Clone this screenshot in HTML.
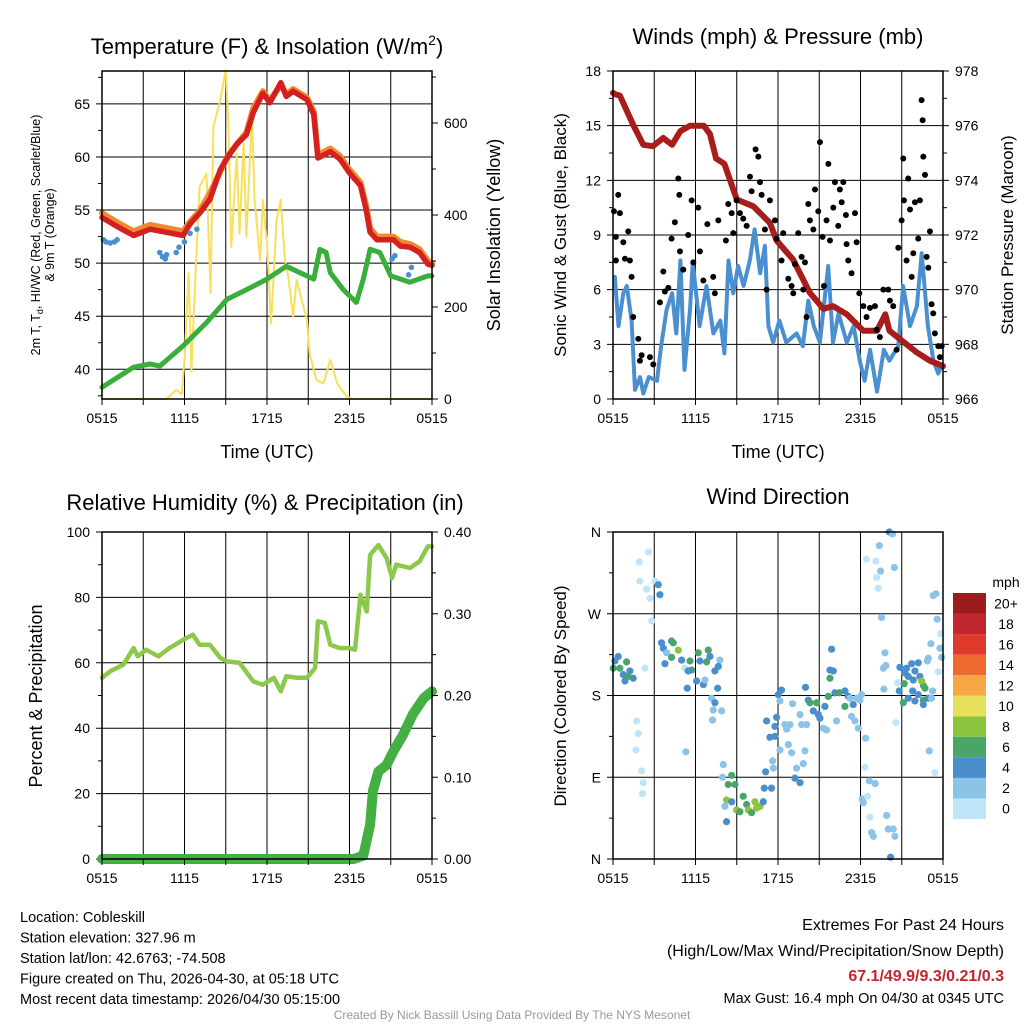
<!DOCTYPE html>
<html><head><meta charset="utf-8">
<style>
body{margin:0;background:#fff;width:1024px;height:1024px;overflow:hidden;font-family:"Liberation Sans",sans-serif}
svg text{font-family:"Liberation Sans",sans-serif}
</style></head>
<body>
<svg id="c" width="1024" height="1024" viewBox="0 0 1024 1024" xmlns="http://www.w3.org/2000/svg"></svg>
<script>
// ---------- data ----------
const xTickLabels = ["0515","1115","1715","2315","0515"];
// temperature panel (hours since 0515)
const tempT  = [0,1.3,2.3,3.5,4.7,5.9,6.4,7.1,7.85,8.6,9.1,9.8,10.5,11,11.7,12.2,13,13.4,13.9,14.9,15.4,15.7,16.6,17.3,18.0,18.8,19.2,19.5,20,20.7,21.2,21.7,22.4,23.1,23.7,24];
const tempV  = [54.3,53.3,52.6,53.2,52.9,52.6,53.7,54.7,56.0,58.8,59.9,61.2,62.1,64.2,66.0,65.1,67.0,65.7,66.2,65.4,64.0,59.9,60.5,59.8,58.5,57.3,55.1,52.9,52.2,52.2,52.2,51.6,51.5,51.0,49.9,49.8];
const temp9V = [54.7,53.7,53.0,53.6,53.3,53.0,53.9,54.9,56.6,58.6,60.0,61.2,62.3,64.6,66.2,65.3,66.8,65.9,66.4,65.6,64.3,60.2,60.8,60.1,58.8,57.6,55.5,53.3,52.5,52.5,52.5,52.0,51.8,51.3,50.2,50.0];
const dewT = [0,2.3,3.5,4.2,5.9,7.6,9.1,10.5,12,13.4,14.4,15.4,15.85,16.3,16.6,17.55,18.5,19,19.5,20.2,21,22.4,23.7,24];
const dewV = [38.3,40.2,40.5,40.3,42.2,44.4,46.6,47.5,48.5,49.7,49.1,48.5,51.3,51.0,49.1,47.5,46.3,48.5,51.3,51.0,48.8,48.2,48.8,48.8];
const hiT = [0.1,0.3,0.6,0.9,1.1,4.2,4.4,4.6,4.7,5.4,5.6,6.0,6.4,6.9,21.1,21.3,22.3,22.5];
const hiV = [52.2,52.0,51.9,52.0,52.2,51.0,50.6,50.4,50.8,51.0,51.5,52.0,52.8,53.2,50.4,50.7,48.9,49.6];
const solT = [0,4.7,5.4,5.8,6.0,6.3,6.5,6.8,7.1,7.6,7.9,8.1,8.6,9.0,9.2,9.4,9.8,10.0,10.3,10.5,10.9,11.1,11.5,11.7,12,12.3,12.7,13,13.3,13.55,13.9,14.15,14.4,14.9,15.1,15.6,16.1,16.6,17.1,17.8,18.3,24];
const solV = [0,0,20,10,85,273,60,273,462,490,230,592,650,715,592,331,534,360,556,353,614,433,302,433,338,164,389,433,302,266,179,259,230,172,99,41,34,85,34,5,0,0];
// wind panel
const windT = [0.14,0.4,0.75,1.0,1.35,1.6,1.96,2.2,2.6,3.2,3.5,3.9,4.3,4.6,4.9,5.2,5.6,5.8,6.3,6.8,7.3,7.8,8.1,8.4,8.75,9.1,9.5,9.95,10.3,10.7,11.05,11.3,11.65,12.1,12.6,13.35,13.8,14.2,14.6,15.05,15.65,16.0,16.4,17.0,17.5,17.95,18.3,18.7,19.2,19.7,20.1,20.75,21.1,21.6,22.1,22.45,22.9,23.3,23.65,23.9];
const windV = [6.7,4.0,5.8,6.2,4.3,0.5,1.2,0.3,1.2,1.0,2.9,4.9,5.8,3.6,7.6,1.6,4.9,7.5,4.0,6.2,3.6,4.3,2.5,7.6,5.8,7.3,6.2,7.6,9.3,6.9,8.4,4.0,3.1,4.3,3.1,3.6,2.9,5.4,4.0,3.1,7.3,3.1,4.7,3.1,4.0,2.1,1.0,2.7,0.4,2.7,2.1,2.9,6.2,4.0,5.1,8.0,4.0,2.1,1.4,1.8];
const gustT = [0.07,0.38,0.5,0.21,0.21,0.75,0.87,1.11,1.23,1.35,1.47,1.84,2.08,1.96,2.69,2.93,3.41,3.66,3.78,4.02,4.26,4.5,4.75,4.82,4.87,5.11,5.47,5.72,5.84,6.2,6.32,6.57,6.86,7.29,7.66,7.41,8.21,8.38,8.63,8.75,8.99,9.23,9.47,9.72,9.96,10.08,10.37,10.57,10.69,10.81,11.05,11.17,11.41,11.78,11.9,12.26,12.38,12.75,12.99,13.11,13.23,13.47,13.72,13.84,13.96,14.08,14.2,14.32,14.57,14.69,14.93,15.05,15.24,15.34,15.53,15.66,15.78,16.02,16.14,16.38,16.5,16.63,16.75,16.94,16.99,17.11,17.35,17.6,17.72,17.91,18.2,18.44,18.69,19.05,19.17,19.41,19.66,20.02,20.14,20.38,20.63,20.75,20.99,21.11,21.16,21.35,21.47,21.6,21.72,21.84,21.96,22.2,22.32,22.44,22.52,22.57,22.69,22.81,22.93,23.05,23.17,23.29,23.41,23.66,23.78,23.9];
const gustV = [10.3,11.2,10.2,8.9,7.6,8.6,7.7,9.2,7.6,6.7,4.5,3.3,2.4,2.1,2.3,1.9,5.3,7.0,5.9,6.1,8.8,9.7,12.1,11.2,8.1,7.1,9.0,10.9,7.5,10.5,8.1,6.5,9.6,6.7,9.8,5.8,8.7,10.7,10.2,9.1,10.9,10.2,9.9,9.5,12.2,11.4,13.7,13.3,11.9,11.2,9.3,6.0,10.9,9.8,8.8,7.6,9.1,6.6,6.2,5.8,7.4,9.1,7.8,6.0,7.5,4.5,10.7,9.8,9.3,11.5,10.3,14.1,8.9,6.2,9.8,12.9,8.7,10.5,11.9,9.5,11.5,10.8,11.9,10.1,8.5,7.6,6.9,10.2,8.6,5.8,5.1,4.5,5.0,5.1,3.8,3.4,6.0,6.0,5.4,5.1,2.7,8.3,9.8,13.2,10.9,7.6,12.1,10.4,6.7,8.0,10.8,8.8,10.9,16.4,15.3,13.3,12.3,7.8,7.2,9.2,5.2,4.7,3.6,2.9,2.3,2.9];
const presT = [0,0.14,0.5,1.5,2.2,2.9,3.65,4.3,4.9,5.6,6.6,7.05,7.5,8.1,9.0,10.2,11.4,11.9,13.1,14.3,15.3,16.0,17,18.2,19.2,19.8,20.1,21.1,22.1,23.05,24];
const presV = [977.2,977.15,977.1,976.0,975.3,975.25,975.55,975.3,975.8,976.0,976.0,975.7,974.8,974.6,973.3,973.05,972.45,971.8,971.1,969.9,969.3,969.4,969.1,968.5,968.5,969.1,968.5,968.1,967.7,967.4,967.2];
// humidity panel
const rhT = [0,0.6,1.55,2.3,2.6,3.2,4.1,4.9,5.9,6.6,7.1,7.85,8.6,9.1,10.0,11,11.7,12.5,13,13.4,14.2,14.9,15.5,15.7,16.2,16.6,17.3,18,18.4,18.8,19.25,19.5,20.1,20.7,21.1,21.4,22.4,23.1,23.7,24];
const rhV = [55.4,57.4,59.4,64.5,62,64,62,64.5,67,68.6,65.5,65.5,61.5,60.4,60,54.3,53.3,55.4,51.3,55.9,55.4,55.4,58.4,72.7,72.2,65.5,64.5,64.5,64,80.8,75.7,93,96,92,86,90,89,91,95.6,95.6];
const prT = [0,18.3,19.0,19.5,19.7,20.1,20.7,21.2,21.9,22.6,23.4,24];
const prV = [0,0,0.004,0.042,0.083,0.107,0.115,0.132,0.152,0.177,0.197,0.205];
// wind direction panel
const dirT = [0.14,0.38,0.02,0.5,0.99,0.75,1.23,1.47,0.87,1.11,2.32,1.91,2.57,1.96,2.44,3.05,3.29,3.41,2.69,2.81,1.72,1.84,1.67,2.08,2.2,2.15,3.53,3.66,4.26,4.38,4.75,4.26,3.9,3.78,4.99,5.6,5.23,5.72,5.47,6.2,6.93,6.32,6.81,7.05,6.08,6.57,6.69,5.4,7.61,7.41,7.78,7.66,7.17,7.41,7.29,7.9,7.24,5.3,8.02,7.97,8.63,8.38,8.87,8.26,8.14,8.63,8.99,9.23,9.47,9.72,9.84,10.08,10.32,10.44,10.69,10.93,8.26,11.1,11.0,11.53,11.66,11.61,12.14,11.17,11.78,11.41,11.78,11.9,12.26,12.02,12.14,12.5,12.63,12.87,12.75,13.06,12.99,13.35,13.84,13.23,13.6,13.6,13.72,14.08,14.0,13.96,14.2,14.32,14.57,14.81,14.93,15.05,15.29,15.53,15.41,15.66,15.78,15.9,16.02,15.78,16.14,16.26,16.46,16.87,16.87,17.11,17.23,17.35,17.47,17.72,17.6,17.84,18.08,17.96,18.37,18.32,18.64,19.07,18.13,18.52,18.2,18.69,18.81,18.93,19.9,20.02,20.38,20.5,20.19,18.44,19.12,19.37,19.46,19.17,19.29,20.09,20.33,20.46,19.53,19.78,19.66,19.85,19.7,20.58,20.7,20.87,21.23,21.35,21.72,22.2,21.47,21.84,21.96,22.32,21.18,20.82,21.79,22.2,22.57,22.69,22.44,21.47,21.96,22.57,22.57,21.11,22.93,23.24,23.17,23.0,23.41,23.12,22.93,22.86,23.58,23.78,23.9,23.83,23.66,23.29,23.49];
const dirDeg = [218,223,210,210,217,203,207,199,196,201,210,327,338,306,297,306,302,291,287,262,152,138,120,97,84,72,238,232,240,238,230,222,227,215,219,218,210,208,207,227,230,218,217,223,196,192,197,188,188,207,219,212,177,172,164,163,153,118,104,90,92,82,82,65,58,63,54,52,69,60,54,51,63,56,58,63,41,96,78,78,100,108,120,152,146,134,135,156,186,181,174,148,143,148,126,171,117,100,105,89,84,159,148,148,189,119,175,172,163,172,159,155,144,142,168,179,208,231,207,199,183,152,183,185,168,179,177,157,170,177,152,144,181,175,133,101,86,83,66,69,62,46,29,25,48,33,33,25,2,330,328,345,317,310,298,360,358,321,266,227,210,213,187,150,194,211,205,210,215,216,201,197,207,201,193,185,185,181,191,188,196,177,174,175,170,172,177,185,177,119,95,237,221,218,264,232,222,248,206,290,292];
const dirSpd = [4,4,6,6,6,4,4,4,4,6,1,0,0,0,0,0,4,4,0,0,0,0,0,0,0,0,4,4,4,6,8,6,2,4,4,6,1,6,4,6,6,4,6,4,4,4,2,4,4,4,2,4,2,4,2,2,2,2,2,2,6,6,6,8,2,4,8,6,6,6,8,6,8,8,8,4,4,4,4,4,2,2,2,4,4,4,4,4,4,4,2,2,2,2,2,2,2,2,2,4,4,2,2,2,4,2,4,6,4,6,4,4,2,2,4,6,4,4,4,6,4,2,6,4,6,4,2,2,4,2,2,2,2,2,2,0,2,2,2,1,2,0,2,2,2,2,2,2,4,0,0,2,2,0,0,4,2,2,2,2,2,2,2,0,1,4,4,4,4,4,4,4,4,4,6,4,4,4,6,6,8,4,4,6,4,6,4,2,2,2,0,2,2,2,2,2,2,1,0,2,2];
const cbLabels = ["0","2","4","6","8","10","12","14","16","18","20+"];
const cbColors = ["#bfe6f8","#8cc3e8","#4a8fcb","#4aa56a","#8cc43f","#e8e05a","#f7a744","#ef6a2f","#e03a2e","#c1272d","#9b1b1e"];

// ---------- helpers ----------
const NS="http://www.w3.org/2000/svg";
const svg=document.getElementById('c');
function mk(tag,attrs,parent){const e=document.createElementNS(NS,tag);for(const k in attrs)e.setAttribute(k,attrs[k]);(parent||svg).appendChild(e);return e;}
function txt(s,x,y,size,anchor,parent,extra){const e=mk('text',Object.assign({x:x,y:y,'font-size':size,'text-anchor':anchor||'middle',fill:'#000'},extra||{}),parent);e.textContent=s;return e;}
function spdColor(s){let i=Math.min(10,Math.max(0,Math.floor(s/2)));return cbColors[i];}

function panel(o){
  const g=mk('g',{});
  
  
  const X=h=>o.x0+h/24*(o.x1-o.x0);
  const Y=v=>o.y1-(v-o.ymin)/(o.ymax-o.ymin)*(o.y1-o.y0);
  const Y2=o.r?(v=>o.y1-(v-o.r.min)/(o.r.max-o.r.min)*(o.y1-o.y0)):null;
  const grid=mk('g',{stroke:'#000','stroke-width':1},g);
  
  
  for(let i=1;i<8;i++){const x=X(i*3);mk('line',{x1:x,x2:x,y1:o.y0,y2:o.y1},grid);}
  o.ticks.forEach(t=>{const y=Y(t.v);mk('line',{x1:o.x0-6,x2:o.x1,y1:y,y2:y},grid);});
  return {g,X,Y,Y2};
}
function frame(p,o){
  const g=p.g;
  const ax=mk('g',{},g);
  
  
  mk('rect',{x:o.x0,y:o.y0,width:o.x1-o.x0,height:o.y1-o.y0,fill:'none',stroke:'#000','stroke-width':1.5},ax);
  for(let i=0;i<=8;i++){const x=p.X(i*3);mk('line',{x1:x,x2:x,y1:o.y1,y2:o.y1+6,stroke:'#000'},ax);}
  xTickLabels.forEach((l,i)=>{const t=txt(l,p.X(i*6),o.y1+24,14,'middle',ax);});
  o.ticks.forEach(t=>{const e=txt(t.l,o.x0-12,p.Y(t.v)+5,14,'end',ax);});
  if(o.minor)o.minor.forEach(v=>{const y=p.Y(v);mk('line',{x1:o.x0-4,x2:o.x0,y1:y,y2:y,stroke:'#000'},ax);});
  if(o.r){o.r.ticks.forEach(t=>{const y=p.Y2(t.v);mk('line',{x1:o.x1,x2:o.x1+6,y1:y,y2:y,stroke:'#000'},ax);const e=txt(t.l,o.x1+12,y+5,14,'start',ax);});
    if(o.r.minor)o.r.minor.forEach(v=>{const y=p.Y2(v);mk('line',{x1:o.x1,x2:o.x1+4,y1:y,y2:y,stroke:'#000'},ax);});}
}
function line(p,ts,vs,Yf,color,w,name,parent){
  const d=ts.map((t,i)=>(i?'L':'M')+p.X(t).toFixed(1)+','+Yf(vs[i]).toFixed(1)).join('');
  const e=mk('path',{d:d,fill:'none',stroke:color,'stroke-width':w,'stroke-linejoin':'round','stroke-linecap':'round'},parent||p.g);
  
  
  return e;
}

// ---------- panel 1 ----------
const o1={name:'temperature-panel',x0:102,x1:432,y0:71,y1:399,ymin:37.2,ymax:68.1,
  ticks:[40,45,50,55,60,65].map(v=>({v,l:String(v)})),minor:[37.5,42.5,47.5,52.5,57.5,62.5,67.5],
  r:{min:0,max:713,ticks:[0,200,400,600].map(v=>({v,l:String(v)})),minor:[100,300,500,700]}};
const p1=panel(o1);
line(p1,solT,solV,p1.Y2,'#f8df5c',2,'solar-insolation-line');
line(p1,tempT,temp9V,p1.Y,'#f08a30',6,'temp-9m-line');
line(p1,tempT,tempV,p1.Y,'#d42020',5.5,'temp-2m-line');
line(p1,dewT,dewV,p1.Y,'#3aae3a',5,'dewpoint-line');
hiT.forEach((t,i)=>{const c=mk('circle',{cx:p1.X(t),cy:p1.Y(hiV[i]),r:2.8,fill:'#4a90d0'},p1.g);});
frame(p1,o1);
{const t=txt('',267,54,22,'middle',p1.g);
 t.innerHTML='Temperature (F) &amp; Insolation (W/m<tspan font-size="14" dy="-9">2</tspan><tspan dy="9">)</tspan>';}
{const t=txt('',0,0,12.5,'middle',p1.g,{transform:'translate(40,235) rotate(-90)'});
 t.innerHTML='2m T, T<tspan font-size="9" dy="3">d</tspan><tspan dy="-3">, HI/WC (Red, Green, Scarlet/Blue)</tspan>';
 const t2=txt('& 9m T (Orange)',0,0,12.5,'middle',p1.g,{transform:'translate(54,235) rotate(-90)'});}
{const t=txt('Solar Insolation (Yellow)',0,0,18,'middle',p1.g,{transform:'translate(500,235) rotate(-90)'});}
{const t=txt('Time (UTC)',267,458,18,'middle',p1.g);}

// ---------- panel 2 ----------
const o2={name:'winds-panel',x0:613,x1:943,y0:71,y1:399,ymin:0,ymax:18,
  ticks:[0,3,6,9,12,15,18].map(v=>({v,l:String(v)})),minor:[1.5,4.5,7.5,10.5,13.5,16.5],
  r:{min:966,max:978,ticks:[966,968,970,972,974,976,978].map(v=>({v,l:String(v)})),minor:[967,969,971,973,975,977]}};
const p2=panel(o2);
line(p2,windT,windV,p2.Y,'#4a90d0',4,'sonic-wind-line');
line(p2,presT,presV,p2.Y2,'#a81c1c',6,'station-pressure-line');
gustT.forEach((t,i)=>{const c=mk('circle',{cx:p2.X(t),cy:p2.Y(gustV[i]),r:3,fill:'#000'},p2.g);});
frame(p2,o2);
{const t=txt('Winds (mph) & Pressure (mb)',778,44,22,'middle',p2.g);}
{const t=txt('Sonic Wind & Gust (Blue, Black)',0,0,17,'middle',p2.g,{transform:'translate(566,235) rotate(-90)'});}
{const t=txt('Station Pressure (Maroon)',0,0,17,'middle',p2.g,{transform:'translate(1013,235) rotate(-90)'});}
{const t=txt('Time (UTC)',778,458,18,'middle',p2.g);}

// ---------- panel 3 ----------
const o3={name:'humidity-panel',x0:102,x1:432,y0:532,y1:859,ymin:0,ymax:100,
  ticks:[0,20,40,60,80,100].map(v=>({v,l:String(v)})),minor:[10,30,50,70,90],
  r:{min:0,max:0.4,ticks:[0,0.1,0.2,0.3,0.4].map(v=>({v,l:v.toFixed(2)})),minor:[0.05,0.15,0.25,0.35]}};
const p3=panel(o3);
line(p3,rhT,rhV,p3.Y,'#8cc84b',4.5,'relative-humidity-line');
line(p3,prT,prV,p3.Y2,'#44b044',10,'precipitation-line');
frame(p3,o3);
{const t=txt('Relative Humidity (%) & Precipitation (in)',265,510,22,'middle',p3.g);}
{const t=txt('Percent & Precipitation',0,0,18,'middle',p3.g,{transform:'translate(42,696) rotate(-90)'});}

// ---------- panel 4 ----------
const o4={name:'wind-direction-panel',x0:613,x1:943,y0:532,y1:859,ymin:0,ymax:360,
  ticks:[{v:0,l:'N'},{v:90,l:'E'},{v:180,l:'S'},{v:270,l:'W'},{v:360,l:'N'}],minor:[45,135,225,315]};
const p4=panel(o4);
dirT.forEach((t,i)=>{const c=mk('circle',{cx:p4.X(t),cy:p4.Y(dirDeg[i]),r:3.6,fill:spdColor(dirSpd[i])},p4.g);});
frame(p4,o4);
{const t=txt('Wind Direction',778,504,22,'middle',p4.g);}
{const t=txt('Direction (Colored By Speed)',0,0,17,'middle',p4.g,{transform:'translate(566,696) rotate(-90)'});}
{const cb=mk('g',{},p4.g);
 const top=593,bot=819,h=(bot-top)/cbColors.length;
 cbColors.forEach((c,i)=>{const r=mk('rect',{x:953,y:bot-(i+1)*h,width:33,height:h,fill:c},cb);
   const t=txt(cbLabels[i],1006,bot-i*h-h/2+5,14,'middle',cb);});
 const t=txt('mph',1006,587,14,'middle',cb);}

// ---------- footer ----------
{const f=mk('g',{});
 ["Location: Cobleskill","Station elevation: 327.96 m","Station lat/lon: 42.6763; -74.508","Figure created on Thu, 2026-04-30, at 05:18 UTC","Most recent data timestamp: 2026/04/30 05:15:00"].forEach((s,i)=>txt(s,20,922+i*20.5,14.5,'start',f));
 const e=mk('g',{});
 txt('Extremes For Past 24 Hours',1004,930,16,'end',e);
 txt('(High/Low/Max Wind/Precipitation/Snow Depth)',1004,956,16,'end',e);
 txt('67.1/49.9/9.3/0.21/0.3',1004,981,16,'end',e,{fill:'#c1272d','font-weight':'bold'});
 txt('Max Gust: 16.4 mph On 04/30 at 0345 UTC',1004,1003,14.5,'end',e);
 const c=txt('Created By Nick Bassill Using Data Provided By The NYS Mesonet',512,1019,12,'middle');c.setAttribute('fill','#999');}
</script>
</body></html>
